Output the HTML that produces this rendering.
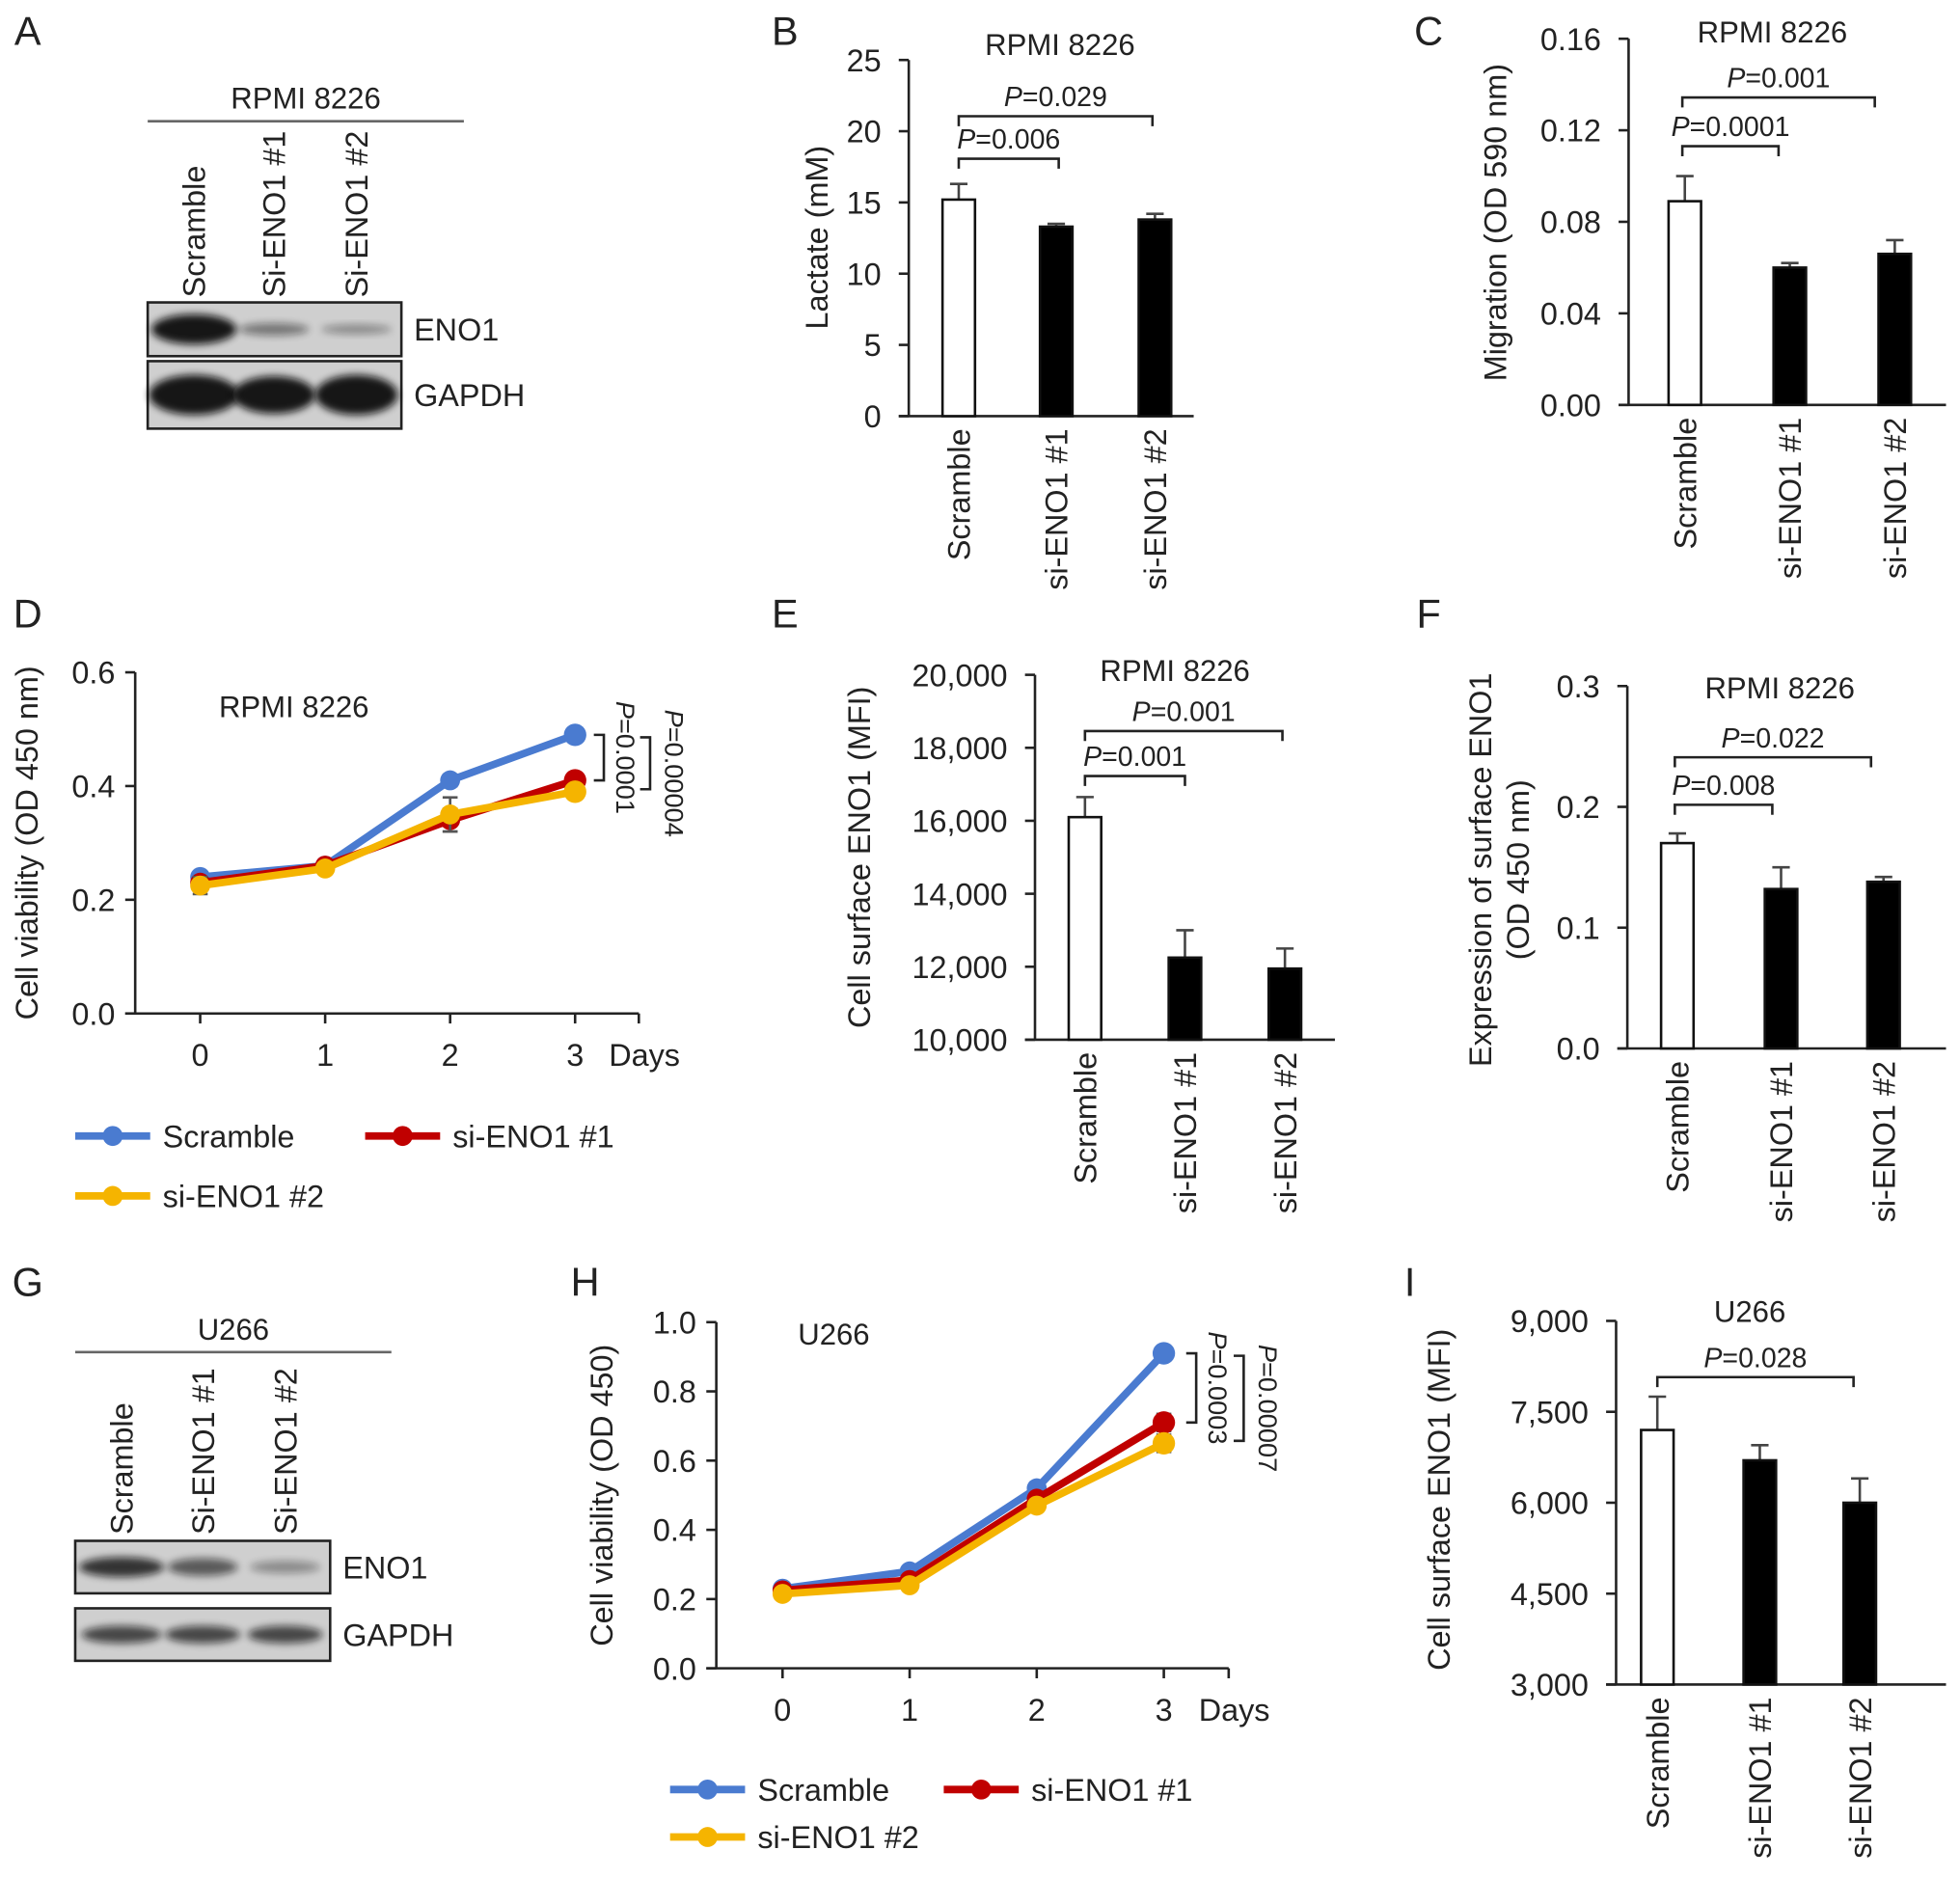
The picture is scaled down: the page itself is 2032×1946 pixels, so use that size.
<!DOCTYPE html>
<html><head><meta charset="utf-8">
<style>
html,body{margin:0;padding:0;background:#fff;}
svg{display:block;font-family:"Liberation Sans",Arial,sans-serif;}
</style></head>
<body>
<svg id="fig" width="2032" height="1946" viewBox="0 0 1568 1502" xmlns="http://www.w3.org/2000/svg">
<defs>
<filter id="blur" x="-20%" y="-50%" width="140%" height="200%"><feGaussianBlur stdDeviation="3"/></filter>
</defs>
<g id="root"></g>
</svg>
<script>
// ---------- data ----------
var barCats = ["Scramble", "si-ENO1 #1", "si-ENO1 #2"];
var lactateVals = [15.2, 13.3, 13.8];
var lactateErr = [1.1, 0.2, 0.4];
var lactateTicks = [0, 5, 10, 15, 20, 25];
var migrationVals = [0.089, 0.060, 0.066];
var migrationErr = [0.011, 0.002, 0.006];
var migrationTicks = [0, 0.04, 0.08, 0.12, 0.16];
var migrationTickLabels = ["0.00", "0.04", "0.08", "0.12", "0.16"];
var surfaceVals = [16100, 12250, 11950];
var surfaceErr = [550, 750, 550];
var surfaceTicks = [10000, 12000, 14000, 16000, 18000, 20000];
var surfaceTickLabels = ["10,000", "12,000", "14,000", "16,000", "18,000", "20,000"];
var exprVals = [0.170, 0.132, 0.138];
var exprErr = [0.008, 0.018, 0.004];
var exprTicks = [0, 0.1, 0.2, 0.3];
var exprTickLabels = ["0.0", "0.1", "0.2", "0.3"];
var u266Vals = [7200, 6700, 6000];
var u266Err = [550, 250, 400];
var u266Ticks = [3000, 4500, 6000, 7500, 9000];
var u266TickLabels = ["3,000", "4,500", "6,000", "7,500", "9,000"];

var days = [0, 1, 2, 3];
var dScramble = [0.24, 0.26, 0.41, 0.49];
var dSi1 = [0.23, 0.26, 0.34, 0.41];
var dSi2 = [0.225, 0.255, 0.35, 0.39];
var dErrScramble = [0.005, 0.005, 0.01, 0.005];
var dErrSi1 = [0.01, 0.005, 0.02, 0.01];
var dErrSi2 = [0.015, 0.008, 0.03, 0.01];
var dTicks = [0, 0.2, 0.4, 0.6];
var dTickLabels = ["0.0", "0.2", "0.4", "0.6"];
var hScramble = [0.23, 0.28, 0.52, 0.91];
var hSi1 = [0.225, 0.255, 0.49, 0.71];
var hSi2 = [0.215, 0.24, 0.47, 0.65];
var hErrScramble = [0.01, 0.01, 0.01, 0.01];
var hErrSi1 = [0.01, 0.01, 0.01, 0.025];
var hErrSi2 = [0.01, 0.01, 0.01, 0.025];
var hTicks = [0, 0.2, 0.4, 0.6, 0.8, 1.0];
var hTickLabels = ["0.0", "0.2", "0.4", "0.6", "0.8", "1.0"];

// ---------- helpers ----------
var NS = "http://www.w3.org/2000/svg";
var root = document.getElementById("root");
function mk(tag, attrs, parent) {
  var e = document.createElementNS(NS, tag);
  for (var k in attrs) e.setAttribute(k, attrs[k]);
  (parent || root).appendChild(e);
  return e;
}
function txt(s, x, y, size, parent, anchor, rot) {
  var t = mk("text", {x: x, y: y, "font-size": size, "text-anchor": anchor || "middle", fill: "#222"}, parent);
  if (rot) t.setAttribute("transform", "rotate(" + rot + " " + x + " " + y + ")");
  t.textContent = s;
  return t;
}
function ptext(s, x, y, size, parent, rot) {
  var t = mk("text", {x: x, y: y, "font-size": size, "text-anchor": "middle", fill: "#222"}, parent);
  if (rot) t.setAttribute("transform", "rotate(" + rot + " " + x + " " + y + ")");
  var a = document.createElementNS(NS, "tspan"); a.setAttribute("font-style", "italic"); a.textContent = "P"; t.appendChild(a);
  var b = document.createElementNS(NS, "tspan"); b.textContent = "=" + s; t.appendChild(b);
  return t;
}
function line(x1, y1, x2, y2, parent, col, w) {
  return mk("line", {x1: x1, y1: y1, x2: x2, y2: y2, stroke: col || "#222", "stroke-width": w || 2}, parent);
}
function label(letter, x, y) {
  var t = txt(letter, x, y, 32, root, "middle");
  
  
}

// ---------- bar chart ----------
function barChart(cfg) {
  var g = mk("g", {});
  
  
  var y0 = cfg.yBottom, y1 = cfg.yTop, vmin = cfg.ticks[0], vmax = cfg.ticks[cfg.ticks.length - 1];
  function Y(v) { return y0 - (v - vmin) / (vmax - vmin) * (y0 - y1); }
  line(cfg.ax, y1, cfg.ax, y0, g);
  line(cfg.ax - 8, y0, cfg.xEnd, y0, g);
  cfg.ticks.forEach(function (t, i) {
    line(cfg.ax - 8, Y(t), cfg.ax, Y(t), g);
    var tl = txt(cfg.tickLabels ? cfg.tickLabels[i] : String(t), cfg.ax - 22, Y(t) + 9, 25, g, "end");
    
    
  });
  cfg.vals.forEach(function (v, i) {
    var cx = cfg.centers[i];
    line(cx, Y(v), cx, Y(v + cfg.err[i]), g, "#444", 2);
    line(cx - 7, Y(v + cfg.err[i]), cx + 7, Y(v + cfg.err[i]), g, "#444", 2);
    var r = mk("rect", {x: cx - 13, y: Y(v), width: 26, height: y0 - Y(v), fill: i === 0 ? "#fff" : "#000", stroke: "#111", "stroke-width": 2}, g);
    
    
    var xl = txt(barCats[i], cx + 9, y0 + 10, 25, g, "end", -90);
    
    
  });
  var tt = txt(cfg.title, cfg.titleX, cfg.titleY, 24, g);
  
  
  cfg.yTitle.forEach(function (s, k) {
    var yt = txt(s, cfg.yTitleX + k * 30, cfg.yTitleY, 25, g, "middle", -90);
    
    
  });
  cfg.brackets.forEach(function (b) {
    var bg = mk("g", {}, g);
    
    
    mk("path", {d: "M" + b[0] + " " + (b[2] + 8) + "V" + b[2] + "H" + b[1] + "V" + (b[2] + 8), fill: "none", stroke: "#222", "stroke-width": 2}, bg);
    ptext(b[3], (b[0] + b[1]) / 2, b[2] - 8, 22, bg);
  });
}

// ---------- line chart ----------
function lineChart(cfg) {
  var g = mk("g", {});
  
  
  var y0 = cfg.yBottom, y1 = cfg.yTop, vmax = cfg.ticks[cfg.ticks.length - 1];
  function Y(v) { return y0 - v / vmax * (y0 - y1); }
  function X(d) { return cfg.x0 + d * cfg.dx; }
  line(cfg.ax, y1, cfg.ax, y0, g);
  line(cfg.ax - 8, y0, cfg.xEnd, y0, g);
  cfg.ticks.forEach(function (t, i) {
    line(cfg.ax - 8, Y(t), cfg.ax, Y(t), g);
    var tl = txt(cfg.tickLabels[i], cfg.ax - 16, Y(t) + 9, 25, g, "end");
    
    
  });
  days.forEach(function (d) {
    line(X(d), y0, X(d), y0 + 8, g);
    var tl = txt(String(d), X(d), y0 + 42, 25, g);
    
    
  });
  line(cfg.xEnd, y0, cfg.xEnd, y0 + 8, g);
  var dl = txt("Days", cfg.xEnd - 24, y0 + 42, 25, g, "start");
  
  
  var tt = txt(cfg.title, cfg.titleX, cfg.titleY, 24, g);
  
  
  var yt = txt(cfg.yTitle, cfg.yTitleX, (y0 + y1) / 2, 25, g, "middle", -90);
  
  
  var series = [[cfg.s[0], cfg.e[0], "#4a7bd0", "scramble"], [cfg.s[1], cfg.e[1], "#c00000", "si-eno1-1"], [cfg.s[2], cfg.e[2], "#f5b400", "si-eno1-2"]];
  series.forEach(function (s) {
    var sg = mk("g", {}, g);
    
    
    s[0].forEach(function (v, i) {
      var x = X(days[i]);
      line(x, Y(v - s[1][i]), x, Y(v + s[1][i]), sg, "#555", 2);
      line(x - 6, Y(v - s[1][i]), x + 6, Y(v - s[1][i]), sg, "#555", 2);
      line(x - 6, Y(v + s[1][i]), x + 6, Y(v + s[1][i]), sg, "#555", 2);
    });
    var pts = s[0].map(function (v, i) { return X(days[i]) + "," + Y(v); }).join(" ");
    var pl = mk("polyline", {points: pts, fill: "none", stroke: s[2], "stroke-width": 6, "stroke-linejoin": "round"}, sg);
    
    
    s[0].forEach(function (v, i) {
      var c = mk("circle", {cx: X(days[i]), cy: Y(v), r: i === 3 ? 9 : 8, fill: s[2]}, sg);
      
      
    });
  });
  var bx = cfg.bracketX;
  var b1 = mk("g", {}, g);
  
  
  mk("path", {d: "M" + (bx - 8) + " " + Y(cfg.s[0][3]) + "H" + bx + "V" + Y(cfg.s[1][3]) + "H" + (bx - 8), fill: "none", stroke: "#222", "stroke-width": 2}, b1);
  ptext(cfg.p1, bx + 10, (Y(cfg.s[0][3]) + Y(cfg.s[1][3])) / 2, 21, b1, 90);
  var b2 = mk("g", {}, g);
  
  
  var bx2 = bx + cfg.bracketGap;
  mk("path", {d: "M" + (bx2 - 8) + " " + (Y(cfg.s[0][3]) + 2) + "H" + bx2 + "V" + (Y(cfg.s[2][3]) - 2) + "H" + (bx2 - 8), fill: "none", stroke: "#222", "stroke-width": 2}, b2);
  ptext(cfg.p2, bx2 + 12, (Y(cfg.s[0][3]) + Y(cfg.s[2][3])) / 2 + 8, 21, b2, 90);
  var lg = mk("g", {}, g);
  
  
  cfg.legend.forEach(function (L, k) {
    var eg = mk("g", {}, lg);
    
    
    line(L[0], L[1], L[0] + 60, L[1], eg, series[k][2], 6);
    mk("circle", {cx: L[0] + 30, cy: L[1], r: 8, fill: series[k][2]}, eg);
    txt(barCats[k], L[0] + 70, L[1] + 9, 25, eg, "start");
  });
}

// ---------- western blots ----------
function blot(cfg) {
  var g = mk("g", {});
  
  
  var ct = txt(cfg.title, (cfg.x + cfg.lineEnd) / 2, cfg.titleY, 24, g);
  
  
  line(cfg.x, cfg.titleY + 10, cfg.lineEnd, cfg.titleY + 10, g, "#666", 2);
  var names = ["Scramble", "Si-ENO1 #1", "Si-ENO1 #2"];
  names.forEach(function (n, i) {
    var lt = txt(n, cfg.lanes[i] + 9, cfg.labelBottom, 25, g, "start", -90);
    
    
  });
  var w = cfg.w;
  [[cfg.y1, cfg.eno, "ENO1", cfg.h1], [cfg.y2, cfg.gap, "GAPDH", cfg.h2]].forEach(function (b) {
    var bg = mk("g", {}, g);
    
    
    mk("rect", {x: cfg.x, y: b[0], width: w, height: b[3], fill: "#cfcfcf", stroke: "#222", "stroke-width": 2}, bg);
    b[1].forEach(function (band, i) {
      mk("ellipse", {cx: cfg.lanes[i], cy: b[0] + b[3] / 2, rx: band[0], ry: band[1], fill: "#111", opacity: band[2], filter: "url(#blur)"}, bg);
    });
    txt(b[2], cfg.x + w + 10, b[0] + b[3] / 2 + 9, 25, bg, "start");
  });
}

// ---------- build ----------
label("A", 22, 36); label("B", 628, 36); label("C", 1143, 36);
label("D", 22, 502); label("E", 628, 502); label("F", 1143, 502);
label("G", 22, 1037); label("H", 468, 1037); label("I", 1128, 1037);

blot({name: "western-blot-rpmi8226", title: "RPMI 8226", x: 118, lineEnd: 371, titleY: 87, lanes: [155, 219, 285], labelBottom: 238,
  y1: 242, y2: 289, w: 203, h1: 43, h2: 54,
  eno: [[34, 12, 0.95], [28, 5, 0.45], [28, 4, 0.35]], gap: [[36, 16, 0.95], [33, 15, 0.95], [33, 16, 0.95]]});
blot({name: "western-blot-u266", title: "U266", x: 60, lineEnd: 313, titleY: 1072, lanes: [97, 162, 228], labelBottom: 1228,
  y1: 1233, y2: 1287, w: 204, h1: 42, h2: 42,
  eno: [[34, 8, 0.8], [28, 7, 0.6], [28, 5, 0.35]], gap: [[32, 7, 0.7], [30, 7, 0.7], [30, 7, 0.7]]});

barChart({name: "chart-b-lactate", ax: 727, xEnd: 955, yTop: 48, yBottom: 333, ticks: lactateTicks, vals: lactateVals, err: lactateErr,
  centers: [767, 845, 924], title: "RPMI 8226", titleX: 848, titleY: 44, yTitle: ["Lactate (mM)"], yTitleX: 662, yTitleY: 190,
  brackets: [[767, 847, 127, "0.006"], [767, 922, 93, "0.029"]]});
barChart({name: "chart-c-migration", ax: 1303, xEnd: 1557, yTop: 31, yBottom: 324, ticks: migrationTicks, tickLabels: migrationTickLabels,
  vals: migrationVals, err: migrationErr, centers: [1348, 1432, 1516], title: "RPMI 8226", titleX: 1418, titleY: 34,
  yTitle: ["Migration (OD 590 nm)"], yTitleX: 1205, yTitleY: 178, brackets: [[1346, 1423, 117, "0.0001"], [1346, 1500, 78, "0.001"]]});
barChart({name: "chart-e-surface-eno1", ax: 828, xEnd: 1068, yTop: 540, yBottom: 832, ticks: surfaceTicks, tickLabels: surfaceTickLabels,
  vals: surfaceVals, err: surfaceErr, centers: [868, 948, 1028], title: "RPMI 8226", titleX: 940, titleY: 545,
  yTitle: ["Cell surface ENO1 (MFI)"], yTitleX: 696, yTitleY: 686, brackets: [[868, 948, 621, "0.001"], [868, 1026, 585, "0.001"]]});
barChart({name: "chart-f-expression", ax: 1302, xEnd: 1557, yTop: 549, yBottom: 839, ticks: exprTicks, tickLabels: exprTickLabels,
  vals: exprVals, err: exprErr, centers: [1342, 1425, 1507], title: "RPMI 8226", titleX: 1424, titleY: 559,
  yTitle: ["Expression of surface ENO1", "(OD 450 nm)"], yTitleX: 1193, yTitleY: 696,
  brackets: [[1340, 1418, 644, "0.008"], [1340, 1497, 606, "0.022"]]});
barChart({name: "chart-i-u266-surface", ax: 1293, xEnd: 1557, yTop: 1057, yBottom: 1348, ticks: u266Ticks, tickLabels: u266TickLabels,
  vals: u266Vals, err: u266Err, centers: [1326, 1408, 1488], title: "U266", titleX: 1400, titleY: 1058,
  yTitle: ["Cell surface ENO1 (MFI)"], yTitleX: 1160, yTitleY: 1200, brackets: [[1326, 1483, 1102, "0.028"]]});

lineChart({name: "chart-d-viability-rpmi", ax: 108, xEnd: 511, yTop: 538, yBottom: 811, x0: 160, dx: 100, ticks: dTicks, tickLabels: dTickLabels,
  s: [dScramble, dSi1, dSi2], e: [dErrScramble, dErrSi1, dErrSi2], title: "RPMI 8226", titleX: 235, titleY: 574,
  yTitle: "Cell viability (OD 450 nm)", yTitleX: 30, bracketX: 483, bracketGap: 37, p1: "0.0001", p2: "0.00004",
  legend: [[60, 909], [292, 909], [60, 957]]});
lineChart({name: "chart-h-viability-u266", ax: 573, xEnd: 983, yTop: 1058, yBottom: 1335, x0: 626, dx: 101.7, ticks: hTicks, tickLabels: hTickLabels,
  s: [hScramble, hSi1, hSi2], e: [hErrScramble, hErrSi1, hErrSi2], title: "U266", titleX: 667, titleY: 1076,
  yTitle: "Cell viability (OD 450)", yTitleX: 490, bracketX: 957, bracketGap: 38, p1: "0.0003", p2: "0.00007",
  legend: [[536, 1432], [755, 1432], [536, 1470]]});
</script>
</body></html>
